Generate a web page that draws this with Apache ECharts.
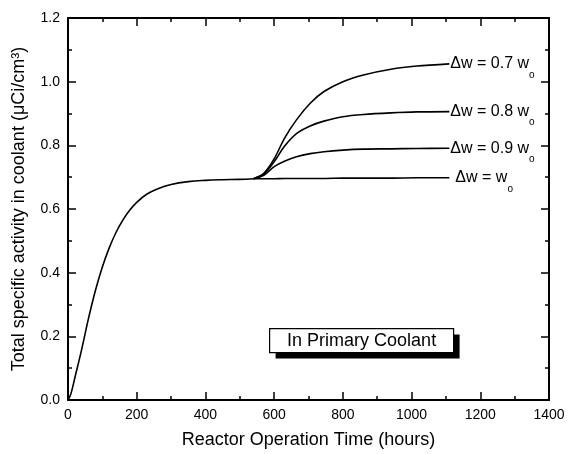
<!DOCTYPE html>
<html>
<head>
<meta charset="utf-8">
<script src="https://cdn.jsdelivr.net/npm/echarts@6/dist/echarts.min.js"></script>
<style>
  html, body { margin: 0; padding: 0; background: #fff; }
  #chart { width: 568px; height: 454px; }
</style>
</head>
<body>
<div id="chart"></div>
<script>
// common part, before the curves split
var baseTime = [0, 8, 20, 40, 60, 80, 100, 120, 140, 160, 180, 200, 230, 260, 300, 350, 400, 450, 500, 540];
var baseValue = [0, 0.018, 0.07, 0.16, 0.258, 0.345, 0.418, 0.478, 0.527, 0.566, 0.597, 0.621, 0.647, 0.663, 0.677, 0.686, 0.690, 0.692, 0.693, 0.695];

// after ~540 h the four cases split
var branchTime = [540, 570, 600, 630, 665, 705, 745, 800, 860, 940, 1015, 1110];
var value07 = [0.695, 0.712, 0.757, 0.822, 0.880, 0.932, 0.969, 1.000, 1.021, 1.039, 1.049, 1.056];
var value08 = [0.695, 0.710, 0.748, 0.797, 0.837, 0.861, 0.876, 0.890, 0.897, 0.902, 0.905, 0.906];
var value09 = [0.695, 0.706, 0.733, 0.750, 0.764, 0.774, 0.780, 0.785, 0.788, 0.789, 0.790, 0.791];
var value10 = [0.695, 0.695, 0.695, 0.696, 0.696, 0.696, 0.696, 0.697, 0.697, 0.697, 0.698, 0.698];

var branchLabels = ['Δw = 0.7 w', 'Δw = 0.8 w', 'Δw = 0.9 w', 'Δw = w'];
var branchValues = [value07, value08, value09, value10];

var FONT = '"Liberation Sans", Arial, sans-serif';

function pairs(xs, ys) {
  return xs.map(function (x, i) { return [x, ys[i]]; });
}

var chart = echarts.init(document.getElementById('chart'));

// axis look shared by the four frame sides
function axisStyle(showLabel) {
  return {
    axisLine: { onZero: false, lineStyle: { color: '#000', width: 2 } },
    axisTick: { inside: true, length: 8, lineStyle: { color: '#000', width: 1.5 } },
    minorTick: { show: true, splitNumber: 2, length: 4, lineStyle: { color: '#000', width: 1.5 } },
    splitLine: { show: false },
    axisLabel: { show: showLabel, color: '#000', fontSize: 14, fontFamily: FONT, margin: 8 }
  };
}

var serieslist = [];
serieslist.push({
  name: 'base',
  type: 'line',
  data: pairs(baseTime, baseValue),
  showSymbol: false,
  smooth: 0.4,
  lineStyle: { color: '#000', width: 1.6 }
});
branchValues.forEach(function (vals, i) {
  serieslist.push({
    name: branchLabels[i],
    type: 'line',
    data: pairs(branchTime, vals),
    showSymbol: false,
    smooth: 0.3,
    lineStyle: { color: '#000', width: 1.6 },
    endLabel: {
      show: true,
      distance: i === 3 ? 6 : 1,
      formatter: '{m|' + branchLabels[i] + '}{s|o}',
      rich: {
        m: { fontSize: 16, fontFamily: FONT, color: '#000', lineHeight: 18 },
        s: { fontSize: 10, fontFamily: FONT, color: '#000', lineHeight: 32, verticalAlign: 'bottom' }
      }
    }
  });
});

var xBottom = Object.assign({
  type: 'value', min: 0, max: 1400, interval: 200, position: 'bottom',
  name: 'Reactor Operation Time (hours)', nameLocation: 'middle', nameGap: 31,
  nameTextStyle: { fontSize: 18, fontFamily: FONT, color: '#000' }
}, axisStyle(true));
xBottom.axisLabel.formatter = function (v) { return String(v); };
var xTop = Object.assign({
  type: 'value', min: 0, max: 1400, interval: 200, position: 'top'
}, axisStyle(false));

var yLeft = Object.assign({
  type: 'value', min: 0, max: 1.2, interval: 0.2, position: 'left',
  name: 'Total specific activity in coolant (μCi/cm³)', nameLocation: 'middle', nameGap: 40,
  nameTextStyle: { fontSize: 18, fontFamily: FONT, color: '#000' }
}, axisStyle(true));
yLeft.axisLabel.formatter = function (v) { return v.toFixed(1); };
var yRight = Object.assign({
  type: 'value', min: 0, max: 1.2, interval: 0.2, position: 'right'
}, axisStyle(false));

var option = {
  animation: false,
  backgroundColor: '#fff',
  grid: { left: 68, right: 19, top: 18, bottom: 54 },
  xAxis: [xBottom, xTop],
  yAxis: [yLeft, yRight],
  graphic: [{
    type: 'group',
    left: 269,
    top: 328,
    children: [{
      type: 'rect',
      shape: { x: 6, y: 6, width: 184, height: 24 },
      style: { fill: '#000' }
    }, {
      type: 'rect',
      shape: { x: 0, y: 0, width: 184, height: 24 },
      style: { fill: '#fff', stroke: '#000', lineWidth: 1.2 }
    }, {
      type: 'text',
      x: 92, y: 12,
      style: { text: 'In Primary Coolant', fontSize: 18, fontFamily: FONT, fill: '#000',
        align: 'center', verticalAlign: 'middle' }
    }]
  }],
  series: serieslist
};

chart.setOption(option);
</script>
</body>
</html>
